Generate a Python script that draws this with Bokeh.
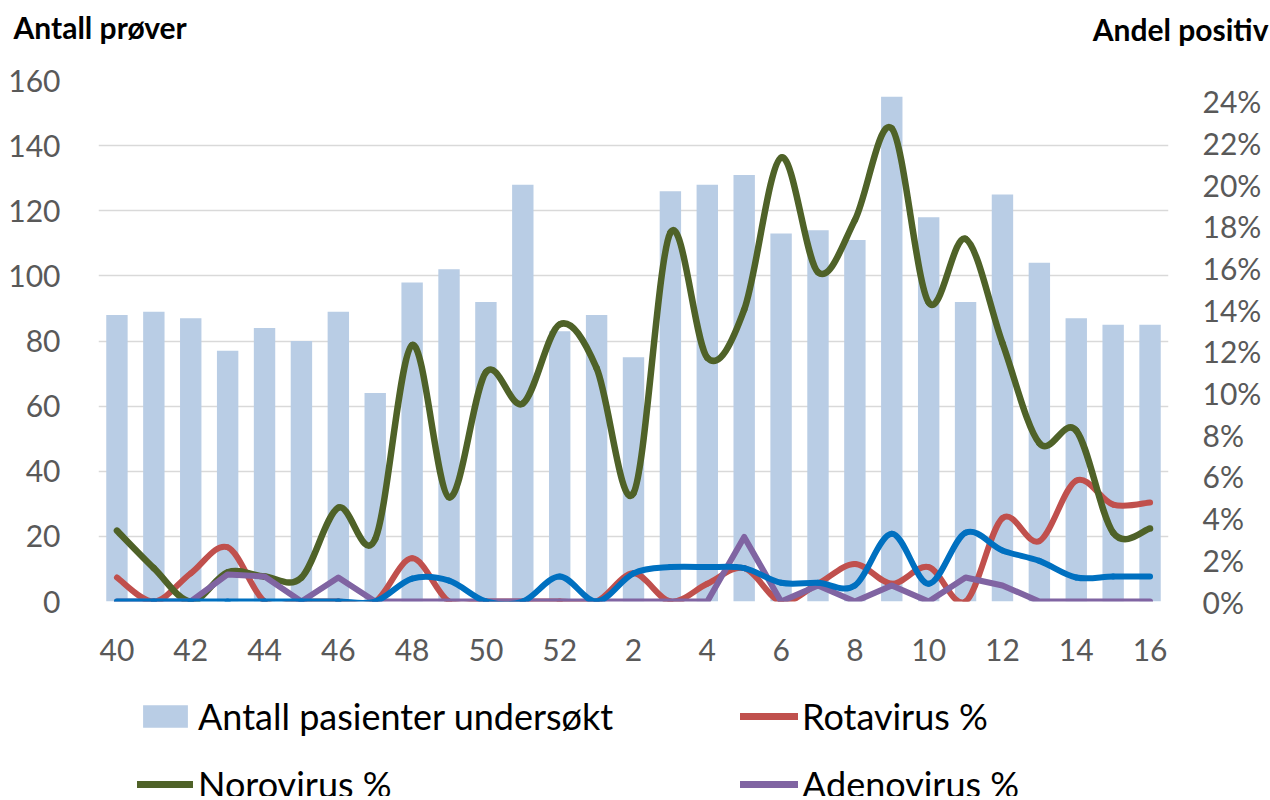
from bokeh.plotting import figure
from bokeh.layouts import column
from bokeh.models import (Range1d, LinearAxis, FixedTicker, PrintfTickFormatter,
                          Legend, LegendItem, Title, ColumnDataSource)
from bokeh.embed import file_html
from bokeh.resources import INLINE

# ---------------- data ----------------
weeks = [40, 41, 42, 43, 44, 45, 46, 47, 48, 49, 50, 51, 52,
         1, 2, 3, 4, 5, 6, 7, 8, 9, 10, 11, 12, 13, 14, 15, 16]
patients = [88, 89, 87, 77, 84, 80, 89, 64, 98, 102, 92, 128, 83,
            88, 75, 126, 128, 131, 113, 114, 111, 155, 118, 92, 125, 104, 87, 85, 85]
rota = [1.15, 0.0, 1.35, 2.6, 0.0, 0.0, 0.0, 0.0, 2.07, 0.0, 0.0, 0.0, 0.0,
        0.0, 1.35, 0.0, 0.85, 1.6, 0.0, 0.85, 1.8, 0.85, 1.65, 0.0, 4.0, 2.9, 5.8, 4.65, 4.75]
noro = [3.4, 1.6, 0.0, 1.4, 1.2, 1.15, 4.5, 3.0, 12.3, 5.0, 11.0, 9.5, 13.3,
        11.2, 5.2, 17.7, 11.7, 14.0, 21.3, 15.8, 18.3, 22.7, 14.35, 17.4, 12.4, 7.6, 8.2, 3.3, 3.5]
adeno = [0.0, 0.0, 0.0, 1.3, 1.2, 0.0, 1.15, 0.0, 0.0, 0.0, 0.0, 0.0, 0.0,
         0.0, 0.0, 0.0, 0.0, 3.1, 0.0, 0.77, 0.0, 0.77, 0.0, 1.15, 0.77, 0.0, 0.0, 0.0, 0.0]
sapo = [0.0, 0.0, 0.0, 0.0, 0.0, 0.0, 0.0, 0.0, 1.1, 1.0, 0.0, 0.0, 1.2,
        0.0, 1.35, 1.65, 1.65, 1.6, 0.9, 0.9, 0.77, 3.25, 0.85, 3.3, 2.45, 1.95, 1.15, 1.2, 1.2]

left_ticks = [0, 20, 40, 60, 80, 100, 120, 140, 160]
right_ticks = [0, 2, 4, 6, 8, 10, 12, 14, 16, 18, 20, 22, 24]

FONT = "Lato"
GREY = "#595959"
C_BAR = "#B9CDE5"
C_ROTA = "#C0504D"
C_NORO = "#4F6228"
C_ADENO = "#8064A2"
C_SAPO = "#0070C0"

xs = list(range(len(weeks)))


def smooth_source(xv, yv, t=1.0 / 6.0):
    n = len(xv)
    d = dict(x0=[], y0=[], x1=[], y1=[], cx0=[], cy0=[], cx1=[], cy1=[])
    for i in range(n - 1):
        xa, ya = xv[max(i - 1, 0)], yv[max(i - 1, 0)]
        xb, yb = xv[i], yv[i]
        xc, yc = xv[i + 1], yv[i + 1]
        xd, yd = xv[min(i + 2, n - 1)], yv[min(i + 2, n - 1)]
        d["x0"].append(xb); d["y0"].append(yb)
        d["x1"].append(xc); d["y1"].append(yc)
        d["cx0"].append(xb + (xc - xa) * t); d["cy0"].append(yb + (yc - ya) * t)
        d["cx1"].append(xc - (xd - xb) * t); d["cy1"].append(yc - (yd - yb) * t)
    return ColumnDataSource(d)


# ---------------- title strip ----------------
tf = figure(width=1270, height=58, output_backend="svg", toolbar_location=None,
            x_range=Range1d(0, 1), y_range=Range1d(0, 1),
            x_axis_location=None, y_axis_location=None,
            min_border_top=0, min_border_bottom=0, min_border_left=98, min_border_right=102)
tf.outline_line_color = None
tf.grid.visible = False
t_right = Title(text="Andel positiv", align="right", offset=-100, standoff=17,
                text_font=FONT, text_font_style="bold", text_font_size="30px",
                text_color="#000000")
t_left = Title(text="Antall prøver", align="left", offset=-85, standoff=-88,
               text_font=FONT, text_font_style="bold", text_font_size="30px",
               text_color="#000000")
tf.add_layout(t_right, "above")
tf.add_layout(t_left, "above")

# ---------------- main chart ----------------
p = figure(width=1270, height=622, output_backend="svg", toolbar_location=None,
           x_range=Range1d(-0.5, len(weeks) - 0.5), y_range=Range1d(0, 160),
           min_border_left=98, min_border_right=102, min_border_top=22, min_border_bottom=79)
p.outline_line_color = None
p.extra_y_ranges = {"pct": Range1d(0, 25)}

p.xaxis.ticker = FixedTicker(ticks=xs[::2])
p.xaxis.major_label_overrides = {i: str(weeks[i]) for i in xs[::2]}
p.yaxis.ticker = FixedTicker(ticks=left_ticks)
for ax in (p.xaxis[0], p.yaxis[0]):
    ax.axis_line_color = None
    ax.major_tick_line_color = None
    ax.minor_tick_line_color = None
    ax.major_label_text_font = FONT
    ax.major_label_text_font_size = "30px"
    ax.major_label_text_color = GREY
p.xaxis.major_label_standoff = 31
p.yaxis.major_label_standoff = 32

ra = LinearAxis(y_range_name="pct", ticker=FixedTicker(ticks=right_ticks),
                formatter=PrintfTickFormatter(format="%d%%"))
ra.axis_line_color = None
ra.major_tick_line_color = None
ra.minor_tick_line_color = None
ra.major_label_text_font = FONT
ra.major_label_text_font_size = "30px"
ra.major_label_text_color = GREY
ra.major_label_standoff = 28
p.add_layout(ra, "right")

p.xgrid.grid_line_color = None
p.ygrid.grid_line_color = "#D9D9D9"
p.ygrid.grid_line_width = 1.5

bars = p.vbar(x=xs, top=patients, width=0.58, fill_color=C_BAR, line_color=None)

p.bezier(source=smooth_source(xs, rota), x0="x0", y0="y0", x1="x1", y1="y1",
         cx0="cx0", cy0="cy0", cx1="cx1", cy1="cy1",
         line_color=C_ROTA, line_width=6, line_cap="round", y_range_name="pct")
p.bezier(source=smooth_source(xs, noro), x0="x0", y0="y0", x1="x1", y1="y1",
         cx0="cx0", cy0="cy0", cx1="cx1", cy1="cy1",
         line_color=C_NORO, line_width=6.5, line_cap="round", y_range_name="pct")
p.line(xs, adeno, line_color=C_ADENO, line_width=6, line_join="round",
       line_cap="round", y_range_name="pct")
p.bezier(source=smooth_source(xs, sapo), x0="x0", y0="y0", x1="x1", y1="y1",
         cx0="cx0", cy0="cy0", cx1="cx1", cy1="cy1",
         line_color=C_SAPO, line_width=6, line_cap="round", y_range_name="pct")

# ---------------- legend strip ----------------
lf = figure(width=1270, height=116, output_backend="svg", toolbar_location=None,
            x_range=Range1d(0, 1), y_range=Range1d(0, 1),
            x_axis_location=None, y_axis_location=None, min_border=0)
lf.outline_line_color = None
lf.grid.visible = False
# swatch-only proxies placed outside the visible range
bar_proxy = lf.vbar(x=[-5], top=[-5], width=0.5, fill_color=C_BAR, line_color=None)
rota_proxy = lf.line(x=[-5], y=[-5], line_color=C_ROTA, line_width=7, line_cap="round")
noro_proxy = lf.line(x=[-5], y=[-5], line_color=C_NORO, line_width=7, line_cap="round")
adeno_proxy = lf.line(x=[-5], y=[-5], line_color=C_ADENO, line_width=7, line_cap="round")


def style(lg, gw, standoff):
    lg.label_text_font = FONT
    lg.label_text_font_size = "36px"
    lg.label_text_color = "#000000"
    lg.glyph_width = gw
    lg.glyph_height = 28
    lg.label_standoff = standoff
    lg.label_height = 43
    lg.spacing = 24
    lg.padding = 0
    lg.margin = 0
    lg.border_line_color = None
    lg.background_fill_alpha = 0


leg_a = Legend(items=[LegendItem(label="Antall pasienter undersøkt", renderers=[bar_proxy]),
                      LegendItem(label="Norovirus %", renderers=[noro_proxy])],
               location=(39, -10))
leg_b = Legend(items=[LegendItem(label="Rotavirus %", renderers=[rota_proxy]),
                      LegendItem(label="Adenovirus %", renderers=[adeno_proxy])],
               location=(642, -10))
style(leg_a, 56, 5)
style(leg_b, 58, 4)
lf.add_layout(leg_a, "center")
lf.add_layout(leg_b, "center")

open("out.html", "w").write(file_html(column(tf, p, lf, spacing=0), INLINE))
